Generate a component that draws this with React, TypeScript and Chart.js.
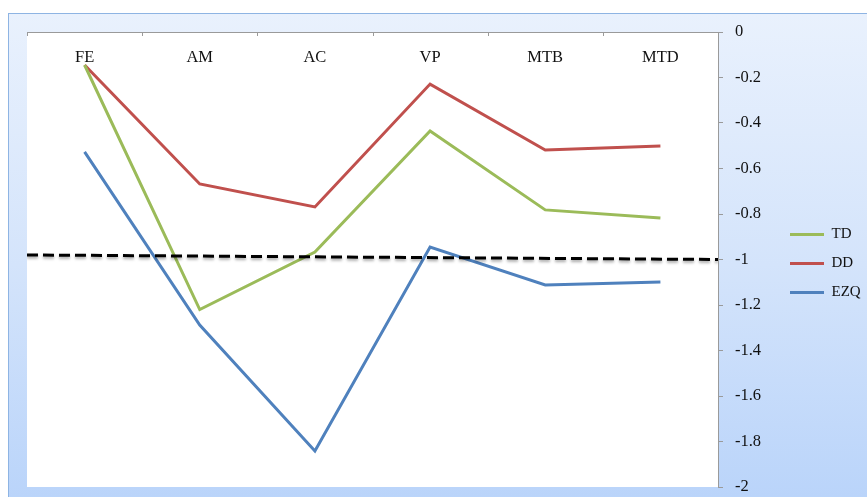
import React, { useEffect, useRef } from 'react';
import { Chart, registerables } from 'chart.js';

Chart.register(...registerables);

const fontFamily = "'Liberation Serif', 'Times New Roman', serif";

// series
const categories = ['FE', 'AM', 'AC', 'VP', 'MTB', 'MTD'];
const tdValues = [-0.145, -1.22, -0.967, -0.435, -0.782, -0.818];
const ddValues = [-0.145, -0.668, -0.769, -0.229, -0.519, -0.501];
const ezqValues = [-0.527, -1.288, -1.842, -0.945, -1.112, -1.099];
// dashed reference line, left end and right end
const cutoffLine = [-0.98, -1.0];

// white plot area on the blue frame
const plotBackground = {
  id: 'plotBackground',
  beforeDraw(chart: any) {
    const { ctx, chartArea } = chart;
    ctx.save();
    ctx.fillStyle = '#ffffff';
    ctx.fillRect(chartArea.left, chartArea.top, chartArea.right - chartArea.left, chartArea.bottom - chartArea.top);
    ctx.restore();
  },
};

// category names sit inside the plot, under the top axis
const categoryLabels = {
  id: 'categoryLabels',
  beforeDatasetsDraw(chart: any) {
    const { ctx, chartArea, scales } = chart;
    ctx.save();
    ctx.font = `16.5px ${fontFamily}`;
    ctx.fillStyle = '#111111';
    ctx.textAlign = 'center';
    ctx.textBaseline = 'middle';
    categories.forEach((c, i) => {
      ctx.fillText(c, scales.x.getPixelForValue(i), chartArea.top + 26);
    });
    ctx.restore();
  },
};

// soft shadow under the dashed line
const dashShadow = {
  id: 'dashShadow',
  beforeDatasetDraw(chart: any, args: any) {
    if (args.index !== 3) return;
    const ctx = chart.ctx;
    ctx.save();
    ctx.shadowColor = 'rgba(0,0,0,0.35)';
    ctx.shadowBlur = 3;
    ctx.shadowOffsetY = 2;
  },
  afterDatasetDraw(chart: any, args: any) {
    if (args.index !== 3) return;
    chart.ctx.restore();
  },
};

const App = () => {
  const canvasRef = useRef<HTMLCanvasElement | null>(null);
  const chartRef = useRef<Chart | null>(null);

  useEffect(() => {
    if (chartRef.current) {
      chartRef.current.destroy();
    }
    const ctx = canvasRef.current?.getContext('2d');
    if (!ctx) return;

    Chart.defaults.font.family = fontFamily;

    chartRef.current = new Chart(ctx, {
      type: 'line',
      data: {
        labels: categories,
        datasets: [
          { label: 'TD', data: tdValues, borderColor: '#9bbb59', backgroundColor: '#9bbb59', borderWidth: 3, pointRadius: 0, tension: 0, order: 0 },
          { label: 'DD', data: ddValues, borderColor: '#c0504d', backgroundColor: '#c0504d', borderWidth: 3, pointRadius: 0, tension: 0, order: 0 },
          { label: 'EZQ', data: ezqValues, borderColor: '#4f81bd', backgroundColor: '#4f81bd', borderWidth: 3, pointRadius: 0, tension: 0, order: 0 },
          {
            label: 'cutoff',
            data: cutoffLine.map((v, i) => ({ x: i, y: v })) as any,
            xAxisID: 'x2',
            borderColor: '#000000',
            borderWidth: 3,
            borderDash: [11, 5],
            pointRadius: 0,
            tension: 0,
            order: -1,
          },
        ],
      },
      options: {
        animation: false,
        responsive: true,
        maintainAspectRatio: false,
        layout: { padding: { top: 18, left: 18, right: 18, bottom: 10 } },
        plugins: {
          tooltip: { enabled: false },
          legend: {
            position: 'right',
            maxWidth: 90,
            title: { display: true, text: ' ', padding: 0, font: { size: 6.5 } },
            labels: {
              usePointStyle: true,
              pointStyle: 'line',
              pointStyleWidth: 34,
              padding: 14,
              color: '#111111',
              font: { size: 15, family: fontFamily },
              filter: (item: any) => item.text !== 'cutoff',
            },
          },
        },
        scales: {
          x: {
            type: 'category',
            position: 'top',
            offset: true,
            grid: { display: true, drawOnChartArea: false, drawTicks: false, color: '#9a9a9a' },
            border: { display: true, color: '#9a9a9a' },
            ticks: { display: false },
          },
          x2: {
            type: 'linear',
            display: false,
            min: 0,
            max: 1,
          },
          y: {
            position: 'right',
            min: -2,
            max: 0,
            afterFit: (scale: any) => {
              scale.width = 58;
              scale.paddingTop = 10;
              scale.paddingBottom = 10;
            },
            grid: { drawOnChartArea: false, drawTicks: true, tickLength: 5, color: '#9a9a9a' },
            border: { display: true, color: '#9a9a9a' },
            ticks: {
              stepSize: 0.2,
              padding: 12,
              color: '#111111',
              font: { size: 16.5, family: fontFamily },
              callback: (v: any) => String(Math.round(Number(v) * 10) / 10),
            },
          },
        },
      },
      plugins: [
        plotBackground,
        categoryLabels,
        dashShadow,
        {
          // small tick marks between categories, pointing down into the plot
          id: 'innerTicks',
          afterDatasetsDraw(chart: any) {
            const { ctx, chartArea, scales } = chart;
            ctx.save();
            ctx.strokeStyle = '#9a9a9a';
            ctx.lineWidth = 1;
            for (let i = 0; i <= categories.length; i++) {
              const px = Math.round(scales.x.getPixelForValue(i - 0.5)) + 0.5;
              ctx.beginPath();
              ctx.moveTo(px, chartArea.top);
              ctx.lineTo(px, chartArea.top + 4);
              ctx.stroke();
            }
            ctx.restore();
          },
        },
      ],
    });

    return () => {
      if (chartRef.current) {
        chartRef.current.destroy();
        chartRef.current = null;
      }
    };
  }, []);

  return (
    <div style={{ position: 'fixed', inset: 0, overflow: 'hidden', background: '#ffffff' }}>
      <div
        style={{
          position: 'absolute',
          left: 8,
          top: 13,
          width: 900,
          height: 500,
          border: '1px solid #8eb4e3',
          background: 'linear-gradient(180deg, #e9f1fd 0%, #d4e4fb 50%, #b8d3fa 100%)',
        }}
      >
        <div style={{ position: 'absolute', left: 0, top: 0, width: 875, height: 483 }}>
          <canvas ref={canvasRef}></canvas>
        </div>
      </div>
    </div>
  );
};

export default App;
